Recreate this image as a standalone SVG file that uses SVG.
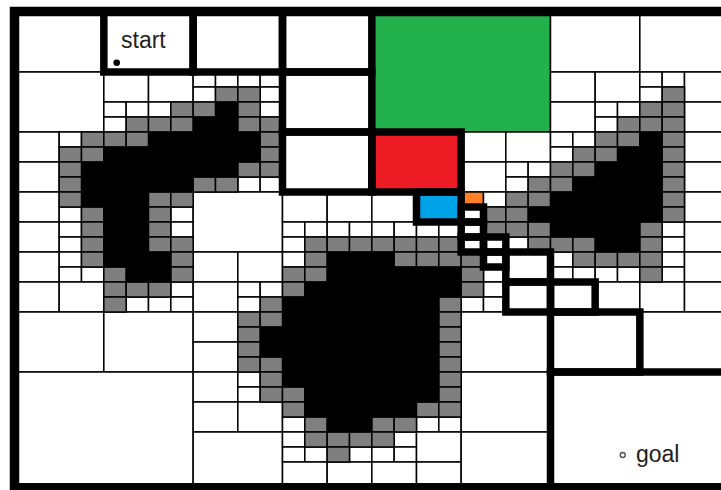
<svg xmlns="http://www.w3.org/2000/svg" width="721" height="490" viewBox="0 0 721 490">
<style>
rect{vector-effect:non-scaling-stroke}
#cells rect{fill:#fff;stroke:#000;stroke-width:1.5}
#gray rect{fill:#7f7f7f;stroke:#000;stroke-width:1.5}
#black rect{fill:#000;stroke:#000;stroke-width:1}
#path rect{fill:none;stroke:#000;stroke-width:7.5}
text{font-family:"Liberation Sans",Arial,sans-serif;font-size:23px;fill:#222}
</style>
<rect width="721" height="490" fill="#fff"/>
<g transform="translate(14.5 12) scale(22.3333 15)">
<g id="cells">
<rect x="0" y="0" width="4" height="4"/>
<rect x="4" y="0" width="4" height="4"/>
<rect x="8" y="0" width="4" height="4"/>
<rect x="12" y="0" width="4" height="4"/>
<rect id="green" x="16" y="0" width="8" height="8" style="fill:#22b14c"/>
<rect x="24" y="0" width="4" height="4"/>
<rect x="28" y="0" width="4" height="4"/>
<rect x="0" y="4" width="4" height="4"/>
<rect x="4" y="4" width="2" height="2"/>
<rect x="6" y="4" width="2" height="2"/>
<rect x="4" y="6" width="1" height="1"/>
<rect x="5" y="6" width="1" height="1"/>
<rect x="6" y="6" width="1" height="1"/>
<rect x="4" y="7" width="1" height="1"/>
<rect x="8" y="4" width="1" height="1"/>
<rect x="9" y="4" width="1" height="1"/>
<rect x="10" y="4" width="1" height="1"/>
<rect x="11" y="4" width="1" height="1"/>
<rect x="8" y="5" width="1" height="1"/>
<rect x="11" y="5" width="1" height="1"/>
<rect x="11" y="6" width="1" height="1"/>
<rect x="12" y="4" width="4" height="4"/>
<rect x="24" y="4" width="2" height="2"/>
<rect x="26" y="4" width="2" height="2"/>
<rect x="24" y="6" width="2" height="2"/>
<rect x="26" y="6" width="1" height="1"/>
<rect x="27" y="6" width="1" height="1"/>
<rect x="26" y="7" width="1" height="1"/>
<rect x="28" y="4" width="1" height="1"/>
<rect x="29" y="4" width="1" height="1"/>
<rect x="28" y="5" width="1" height="1"/>
<rect x="30" y="4" width="2" height="2"/>
<rect x="30" y="6" width="2" height="2"/>
<rect x="0" y="8" width="2" height="2"/>
<rect x="2" y="8" width="1" height="1"/>
<rect x="0" y="10" width="2" height="2"/>
<rect x="10" y="11" width="1" height="1"/>
<rect x="11" y="11" width="1" height="1"/>
<rect x="12" y="8" width="4" height="4"/>
<rect id="red" x="16" y="8" width="4" height="4" style="fill:#ed1c24"/>
<rect x="20" y="8" width="2" height="2"/>
<rect x="22" y="8" width="2" height="2"/>
<rect x="20" y="10" width="2" height="2"/>
<rect x="22" y="10" width="1" height="1"/>
<rect x="23" y="10" width="1" height="1"/>
<rect x="22" y="11" width="1" height="1"/>
<rect x="24" y="8" width="1" height="1"/>
<rect x="25" y="8" width="1" height="1"/>
<rect x="24" y="9" width="1" height="1"/>
<rect x="30" y="8" width="2" height="2"/>
<rect x="30" y="10" width="2" height="2"/>
<rect x="0" y="12" width="2" height="2"/>
<rect x="2" y="13" width="1" height="1"/>
<rect x="0" y="14" width="2" height="2"/>
<rect x="2" y="14" width="1" height="1"/>
<rect x="2" y="15" width="1" height="1"/>
<rect x="7" y="13" width="1" height="1"/>
<rect x="7" y="14" width="1" height="1"/>
<rect x="8" y="12" width="4" height="4"/>
<rect x="12" y="12" width="2" height="2"/>
<rect x="14" y="12" width="2" height="2"/>
<rect x="12" y="14" width="1" height="1"/>
<rect x="13" y="14" width="1" height="1"/>
<rect x="14" y="14" width="1" height="1"/>
<rect x="15" y="14" width="1" height="1"/>
<rect x="12" y="15" width="1" height="1"/>
<rect x="16" y="12" width="2" height="2"/>
<rect id="blue" x="18" y="12" width="2" height="2" style="fill:#00a2e8"/>
<rect x="16" y="14" width="1" height="1"/>
<rect x="17" y="14" width="1" height="1"/>
<rect x="18" y="14" width="1" height="1"/>
<rect x="19" y="14" width="1" height="1"/>
<rect id="orange" x="20" y="12" width="1" height="1" style="fill:#ff7f27"/>
<rect x="21" y="12" width="1" height="1"/>
<rect x="20" y="13" width="1" height="1"/>
<rect x="20" y="14" width="1" height="1"/>
<rect x="20" y="15" width="1" height="1"/>
<rect x="21" y="15" width="1" height="1"/>
<rect x="22" y="15" width="1" height="1"/>
<rect x="29" y="14" width="1" height="1"/>
<rect x="29" y="15" width="1" height="1"/>
<rect x="30" y="12" width="2" height="2"/>
<rect x="30" y="14" width="2" height="2"/>
<rect x="0" y="16" width="2" height="2"/>
<rect x="2" y="16" width="1" height="1"/>
<rect x="2" y="17" width="1" height="1"/>
<rect x="3" y="17" width="1" height="1"/>
<rect x="0" y="18" width="2" height="2"/>
<rect x="2" y="18" width="2" height="2"/>
<rect x="7" y="18" width="1" height="1"/>
<rect x="5" y="19" width="1" height="1"/>
<rect x="6" y="19" width="1" height="1"/>
<rect x="7" y="19" width="1" height="1"/>
<rect x="8" y="16" width="2" height="2"/>
<rect x="10" y="16" width="2" height="2"/>
<rect x="8" y="18" width="2" height="2"/>
<rect x="10" y="18" width="1" height="1"/>
<rect x="11" y="18" width="1" height="1"/>
<rect x="10" y="19" width="1" height="1"/>
<rect x="12" y="16" width="1" height="1"/>
<rect x="21" y="16" width="1" height="1"/>
<rect x="21" y="17" width="1" height="1"/>
<rect x="21" y="18" width="1" height="1"/>
<rect x="20" y="19" width="1" height="1"/>
<rect x="21" y="19" width="1" height="1"/>
<rect x="22" y="16" width="2" height="2"/>
<rect x="22" y="18" width="2" height="2"/>
<rect x="24" y="16" width="1" height="1"/>
<rect x="24" y="17" width="1" height="1"/>
<rect x="25" y="17" width="1" height="1"/>
<rect x="26" y="17" width="1" height="1"/>
<rect x="27" y="17" width="1" height="1"/>
<rect x="24" y="18" width="2" height="2"/>
<rect x="26" y="18" width="2" height="2"/>
<rect x="29" y="16" width="1" height="1"/>
<rect x="29" y="17" width="1" height="1"/>
<rect x="30" y="16" width="2" height="2"/>
<rect x="28" y="18" width="2" height="2"/>
<rect x="30" y="18" width="2" height="2"/>
<rect x="0" y="20" width="4" height="4"/>
<rect x="4" y="20" width="4" height="4"/>
<rect x="8" y="20" width="2" height="2"/>
<rect x="8" y="22" width="2" height="2"/>
<rect x="20" y="20" width="4" height="4"/>
<rect x="24" y="20" width="4" height="4"/>
<rect x="28" y="20" width="4" height="4"/>
<rect x="0" y="24" width="8" height="8"/>
<rect x="8" y="24" width="2" height="2"/>
<rect x="10" y="24" width="1" height="1"/>
<rect x="10" y="25" width="1" height="1"/>
<rect x="8" y="26" width="2" height="2"/>
<rect x="10" y="26" width="2" height="2"/>
<rect x="12" y="27" width="1" height="1"/>
<rect x="18" y="27" width="1" height="1"/>
<rect x="19" y="27" width="1" height="1"/>
<rect x="20" y="24" width="4" height="4"/>
<rect x="24" y="24" width="8" height="8"/>
<rect x="8" y="28" width="4" height="4"/>
<rect x="12" y="28" width="1" height="1"/>
<rect x="12" y="29" width="1" height="1"/>
<rect x="13" y="29" width="1" height="1"/>
<rect x="15" y="29" width="1" height="1"/>
<rect x="12" y="30" width="2" height="2"/>
<rect x="14" y="30" width="2" height="2"/>
<rect x="17" y="28" width="1" height="1"/>
<rect x="16" y="29" width="1" height="1"/>
<rect x="17" y="29" width="1" height="1"/>
<rect x="18" y="28" width="2" height="2"/>
<rect x="16" y="30" width="2" height="2"/>
<rect x="18" y="30" width="2" height="2"/>
<rect x="20" y="28" width="4" height="4"/>
</g>
<g id="gray">
<rect x="7" y="6" width="1" height="1"/><rect x="5" y="7" width="1" height="1"/><rect x="6" y="7" width="1" height="1"/><rect x="7" y="7" width="1" height="1"/>
<rect x="9" y="5" width="1" height="1"/><rect x="10" y="5" width="1" height="1"/><rect x="8" y="6" width="1" height="1"/><rect x="10" y="6" width="1" height="1"/><rect x="10" y="7" width="1" height="1"/><rect x="11" y="7" width="1" height="1"/>
<rect x="27" y="7" width="1" height="1"/>
<rect x="29" y="5" width="1" height="1"/><rect x="28" y="6" width="1" height="1"/><rect x="29" y="6" width="1" height="1"/><rect x="28" y="7" width="1" height="1"/><rect x="29" y="7" width="1" height="1"/>
<rect x="3" y="8" width="1" height="1"/><rect x="2" y="9" width="1" height="1"/><rect x="3" y="9" width="1" height="1"/><rect x="2" y="10" width="1" height="1"/><rect x="2" y="11" width="1" height="1"/>
<rect x="4" y="8" width="1" height="1"/><rect x="5" y="8" width="1" height="1"/>
<rect x="11" y="8" width="1" height="1"/><rect x="11" y="9" width="1" height="1"/><rect x="10" y="10" width="1" height="1"/><rect x="11" y="10" width="1" height="1"/><rect x="8" y="11" width="1" height="1"/><rect x="9" y="11" width="1" height="1"/>
<rect x="23" y="11" width="1" height="1"/>
<rect x="26" y="8" width="1" height="1"/><rect x="27" y="8" width="1" height="1"/><rect x="25" y="9" width="1" height="1"/><rect x="26" y="9" width="1" height="1"/><rect x="24" y="10" width="1" height="1"/><rect x="25" y="10" width="1" height="1"/><rect x="24" y="11" width="1" height="1"/>
<rect x="29" y="8" width="1" height="1"/><rect x="29" y="9" width="1" height="1"/><rect x="29" y="10" width="1" height="1"/><rect x="29" y="11" width="1" height="1"/>
<rect x="2" y="12" width="1" height="1"/><rect x="3" y="13" width="1" height="1"/><rect x="3" y="14" width="1" height="1"/><rect x="3" y="15" width="1" height="1"/>
<rect x="6" y="12" width="1" height="1"/><rect x="7" y="12" width="1" height="1"/><rect x="6" y="13" width="1" height="1"/><rect x="6" y="14" width="1" height="1"/><rect x="6" y="15" width="1" height="1"/><rect x="7" y="15" width="1" height="1"/>
<rect x="13" y="15" width="1" height="1"/><rect x="14" y="15" width="1" height="1"/><rect x="15" y="15" width="1" height="1"/>
<rect x="16" y="15" width="1" height="1"/><rect x="17" y="15" width="1" height="1"/><rect x="18" y="15" width="1" height="1"/><rect x="19" y="15" width="1" height="1"/>
<rect x="22" y="12" width="1" height="1"/><rect x="23" y="12" width="1" height="1"/><rect x="21" y="13" width="1" height="1"/><rect x="22" y="13" width="1" height="1"/><rect x="21" y="14" width="1" height="1"/><rect x="22" y="14" width="1" height="1"/><rect x="23" y="14" width="1" height="1"/><rect x="23" y="15" width="1" height="1"/>
<rect x="24" y="15" width="1" height="1"/><rect x="25" y="15" width="1" height="1"/>
<rect x="29" y="12" width="1" height="1"/><rect x="29" y="13" width="1" height="1"/><rect x="28" y="14" width="1" height="1"/><rect x="28" y="15" width="1" height="1"/>
<rect x="3" y="16" width="1" height="1"/>
<rect x="7" y="16" width="1" height="1"/><rect x="4" y="17" width="1" height="1"/><rect x="7" y="17" width="1" height="1"/><rect x="4" y="18" width="1" height="1"/><rect x="5" y="18" width="1" height="1"/><rect x="6" y="18" width="1" height="1"/><rect x="4" y="19" width="1" height="1"/>
<rect x="11" y="19" width="1" height="1"/>
<rect x="13" y="16" width="1" height="1"/><rect x="12" y="17" width="1" height="1"/><rect x="13" y="17" width="1" height="1"/><rect x="12" y="18" width="1" height="1"/>
<rect x="17" y="16" width="1" height="1"/><rect x="18" y="16" width="1" height="1"/><rect x="19" y="16" width="1" height="1"/><rect x="19" y="19" width="1" height="1"/>
<rect x="20" y="16" width="1" height="1"/><rect x="20" y="17" width="1" height="1"/><rect x="20" y="18" width="1" height="1"/>
<rect x="25" y="16" width="1" height="1"/><rect x="26" y="16" width="1" height="1"/><rect x="27" y="16" width="1" height="1"/>
<rect x="28" y="16" width="1" height="1"/><rect x="28" y="17" width="1" height="1"/>
<rect x="10" y="20" width="1" height="1"/><rect x="11" y="20" width="1" height="1"/><rect x="10" y="21" width="1" height="1"/><rect x="10" y="22" width="1" height="1"/><rect x="10" y="23" width="1" height="1"/><rect x="11" y="23" width="1" height="1"/>
<rect x="19" y="20" width="1" height="1"/><rect x="19" y="21" width="1" height="1"/><rect x="19" y="22" width="1" height="1"/><rect x="19" y="23" width="1" height="1"/>
<rect x="11" y="24" width="1" height="1"/><rect x="11" y="25" width="1" height="1"/>
<rect x="12" y="25" width="1" height="1"/><rect x="12" y="26" width="1" height="1"/><rect x="13" y="27" width="1" height="1"/>
<rect x="19" y="24" width="1" height="1"/><rect x="19" y="25" width="1" height="1"/><rect x="18" y="26" width="1" height="1"/><rect x="19" y="26" width="1" height="1"/><rect x="16" y="27" width="1" height="1"/><rect x="17" y="27" width="1" height="1"/>
<rect x="13" y="28" width="1" height="1"/><rect x="14" y="28" width="1" height="1"/><rect x="15" y="28" width="1" height="1"/><rect x="14" y="29" width="1" height="1"/><rect x="16" y="28" width="1" height="1"/>
</g>
<g id="black">
<rect x="9" y="6" width="1" height="1"/>
<rect x="8" y="7" width="2" height="1"/>
<rect x="6" y="8" width="5" height="1"/>
<rect x="4" y="9" width="7" height="1"/>
<rect x="3" y="10" width="7" height="1"/>
<rect x="3" y="11" width="5" height="1"/>
<rect x="3" y="12" width="3" height="1"/>
<rect x="4" y="13" width="2" height="3"/>
<rect x="4" y="16" width="3" height="1"/>
<rect x="5" y="17" width="2" height="1"/>
<rect x="28" y="8" width="1" height="1"/>
<rect x="27" y="9" width="2" height="1"/>
<rect x="26" y="10" width="3" height="1"/>
<rect x="25" y="11" width="4" height="1"/>
<rect x="24" y="12" width="5" height="1"/>
<rect x="23" y="13" width="6" height="1"/>
<rect x="24" y="14" width="4" height="1"/>
<rect x="26" y="15" width="2" height="1"/>
<rect x="14" y="16" width="3" height="1"/>
<rect x="14" y="17" width="6" height="1"/>
<rect x="13" y="18" width="7" height="1"/>
<rect x="12" y="19" width="7" height="2"/>
<rect x="11" y="21" width="8" height="2"/>
<rect x="12" y="23" width="7" height="2"/>
<rect x="13" y="25" width="6" height="1"/>
<rect x="13" y="26" width="5" height="1"/>
<rect x="14" y="27" width="2" height="1"/>
</g>
<g id="path">
<rect id="start-cell" x="4" y="0" width="4" height="4"/>
<rect x="8" y="0" width="4" height="4"/>
<rect x="12" y="0" width="4" height="4"/>
<rect x="12" y="4" width="4" height="4"/>
<rect x="12" y="8" width="4" height="4"/>
<rect x="16" y="8" width="4" height="4"/>
<rect x="18" y="12" width="2" height="2"/>
<rect x="20" y="13" width="1" height="1"/>
<rect x="20" y="14" width="1" height="1"/>
<rect x="20" y="15" width="1" height="1"/>
<rect x="21" y="15" width="1" height="1"/>
<rect x="21" y="16" width="1" height="1"/>
<rect x="22" y="16" width="2" height="2"/>
<rect x="22" y="18" width="2" height="2"/>
<rect x="24" y="18" width="2" height="2"/>
<rect x="24" y="20" width="4" height="4"/>
<rect id="goal-cell" x="24" y="24" width="8" height="8"/>
</g>
</g>
<rect id="border" x="14.5" y="11.5" width="720" height="476.2" fill="none" stroke="#000" stroke-width="9.5"/>
<g id="start">
<circle cx="116.7" cy="62.7" r="3.3" fill="#000"/>
<text x="121" y="48">start</text>
</g>
<g id="goal">
<circle cx="622.7" cy="455" r="2.5" fill="#fff" stroke="#555" stroke-width="1.4"/>
<text x="636" y="462">goal</text>
</g>
</svg>
